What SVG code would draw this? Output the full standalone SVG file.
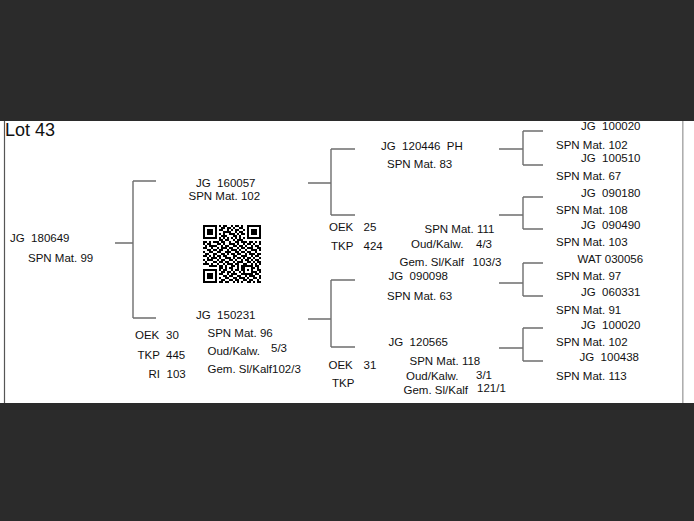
<svg xmlns="http://www.w3.org/2000/svg" width="694" height="521" viewBox="0 0 694 521">
<style>
text{font-family:"Liberation Sans",Arial,sans-serif;font-size:11.5px;fill:#111;white-space:pre}
.big{font-size:18px}
.c{fill:none;stroke:#6e6e6e;stroke-width:1.4}
.qr{fill:none;stroke:#000;stroke-width:2}
</style>
<rect x="0" y="0" width="694" height="521" fill="#2b2b2b"/>
<rect x="0" y="121" width="694" height="282" fill="#ffffff"/>
<line x1="4.5" y1="121" x2="4.5" y2="403" stroke="#555" stroke-width="1.2"/>
<line x1="682.8" y1="121" x2="682.8" y2="403" stroke="#aaa" stroke-width="1.5"/>
<text class="big" x="5" y="136">Lot 43</text>

<g id="connectors">
<path class="c" d="M115 243H133M133 181V318M133 181H156M133 318H156"/>
<path class="c" d="M308 183H331M331 149V215M331 149H355M331 215H355"/>
<path class="c" d="M308 319H331M331 280V347M331 280H355M331 347H355"/>
<path class="c" d="M499 149H523M523 131V165M523 131H543M523 165H543"/>
<path class="c" d="M499 215H523M523 197V229M523 197H543M523 229H543"/>
<path class="c" d="M499 283H523M523 263V296M523 263H543M523 296H543"/>
<path class="c" d="M499 348H523M523 328V361M523 328H543M523 361H543"/>
</g>

<g id="n-180649">
<text x="10" y="242" xml:space="preserve">JG  180649</text>
<text x="28" y="262">SPN Mat. 99</text>
</g>

<g id="n-160057">
<text x="196" y="187" xml:space="preserve">JG  160057</text>
<text x="188.5" y="200">SPN Mat. 102</text>
</g>

<g id="qr">
<path class="qr" d="M203 226h14m2 0h2m2 0h4m4 0h2m2 0h4m2 0h2m4 0h14
M203 228h2m10 0h2m4 0h4m2 0h4m2 0h2m4 0h4m4 0h2m10 0h2
M203 230h2m2 0h6m2 0h2m2 0h4m4 0h2m2 0h2m2 0h4m4 0h2m2 0h2m2 0h6m2 0h2
M203 232h2m2 0h6m2 0h2m6 0h8m4 0h2m2 0h4m4 0h2m2 0h6m2 0h2
M203 234h2m2 0h6m2 0h2m2 0h2m2 0h2m4 0h6m2 0h2m2 0h4m2 0h2m2 0h6m2 0h2
M203 236h2m10 0h2m4 0h6m6 0h4m2 0h2m6 0h2m10 0h2
M203 238h14m2 0h2m2 0h2m2 0h2m2 0h2m2 0h2m2 0h2m2 0h2m2 0h14
M203 240m16 0h4m2 0h4m4 0h2m2 0h6
M203 242h4m2 0h2m2 0h6m2 0h4m4 0h2m4 0h4m2 0h6m2 0h4m2 0h2m2 0h2
M203 244h2m2 0h4m6 0h4m2 0h2m4 0h6m2 0h2m4 0h2m2 0h4m2 0h2m4 0h2
M203 246m2 0h2m2 0h8m4 0h2m2 0h4m4 0h4m2 0h4m2 0h2m4 0h2m2 0h4
M203 248h4m4 0h2m4 0h2m2 0h6m2 0h4m4 0h2m2 0h4m2 0h6m4 0h4
M203 250m4 0h4m2 0h4m2 0h4m4 0h2m2 0h6m2 0h2m4 0h2m4 0h6m2 0h2
M203 252h2m4 0h4m4 0h4m4 0h6m4 0h4m2 0h4m2 0h4m4 0h2
M203 254m2 0h4m4 0h4m4 0h4m2 0h2m2 0h4m2 0h4m4 0h2m2 0h6m2 0h4
M203 256h4m2 0h2m2 0h2m2 0h4m2 0h4m6 0h4m4 0h6m4 0h2m2 0h4
M203 258m4 0h2m2 0h6m2 0h2m4 0h6m2 0h2m2 0h4m2 0h2m2 0h4m2 0h2m4 0h2
M203 260h2m2 0h6m4 0h2m2 0h4m4 0h4m2 0h2m4 0h2m2 0h4m2 0h2m2 0h4
M203 262m2 0h2m6 0h4m2 0h4m2 0h4m4 0h2m2 0h6m4 0h4m2 0h2m2 0h4
M203 264h6m2 0h2m4 0h2m4 0h2m2 0h6m2 0h4m4 0h4m4 0h2m2 0h2m2 0h2
M203 266m6 0h8m2 0h4m2 0h2m4 0h4m2 0h2m2 0h12m2 0h4
M203 268m16 0h4m2 0h2m2 0h4m4 0h2m2 0h4m6 0h4m2 0h2
M203 270h14m2 0h2m2 0h4m4 0h2m2 0h4m2 0h4m2 0h2m2 0h2m4 0h4
M203 272h2m10 0h2m4 0h4m2 0h4m2 0h2m4 0h2m2 0h2m6 0h6m2 0h2
M203 274h2m2 0h6m2 0h2m2 0h4m4 0h2m2 0h6m4 0h12m2 0h4
M203 276h2m2 0h6m2 0h2m6 0h4m2 0h4m4 0h4m4 0h2m2 0h6m4 0h2
M203 278h2m2 0h6m2 0h2m2 0h2m4 0h4m4 0h4m2 0h6m2 0h2m4 0h4m2 0h2
M203 280h2m10 0h2m4 0h4m4 0h4m2 0h4m4 0h4m2 0h4m4 0h2
M203 282h14m2 0h4m2 0h4m4 0h2m2 0h2m2 0h2m4 0h4m2 0h2m2 0h4"/>
</g>

<g id="n-150231">
<text x="196" y="318.5" xml:space="preserve">JG  150231</text>
<text x="207.5" y="337">SPN Mat. 96</text>
<text x="207.5" y="354.5">Oud/Kalw.</text>
<text x="271" y="352">5/3</text>
<text x="207.5" y="373">Gem. Sl/Kalf102/3</text>
<text x="135" y="339">OEK</text>
<text x="166" y="339">30</text>
<text x="137.5" y="358.5">TKP</text>
<text x="166" y="358.5">445</text>
<text x="148.5" y="377.5">RI</text>
<text x="166.5" y="377.5">103</text>
</g>

<g id="n-120446">
<text x="381" y="149.5" xml:space="preserve">JG  120446  PH</text>
<text x="387" y="168">SPN Mat. 83</text>
</g>

<g id="n-120446-info">
<text x="329" y="231">OEK</text>
<text x="363.5" y="231">25</text>
<text x="331" y="249.5">TKP</text>
<text x="363.5" y="249.5">424</text>
<text x="424.5" y="233">SPN Mat. 111</text>
<text x="411" y="248">Oud/Kalw.</text>
<text x="476" y="248">4/3</text>
<text x="399.5" y="266">Gem. Sl/Kalf</text>
<text x="472.5" y="266">103/3</text>
</g>

<g id="n-090098">
<text x="388.5" y="279.5" xml:space="preserve">JG  090098</text>
<text x="387" y="299.5">SPN Mat. 63</text>
</g>

<g id="n-120565">
<text x="388.5" y="346" xml:space="preserve">JG  120565</text>
<text x="328.5" y="368.5">OEK</text>
<text x="363.5" y="368.5">31</text>
<text x="332" y="387">TKP</text>
<text x="409.5" y="365">SPN Mat. 118</text>
<text x="406" y="380">Oud/Kalw.</text>
<text x="476" y="379">3/1</text>
<text x="403.5" y="393.5">Gem. Sl/Kalf</text>
<text x="477" y="392">121/1</text>
</g>

<g id="n-100020a"><text x="581" y="130" xml:space="preserve">JG  100020</text><text x="556" y="148.5">SPN Mat. 102</text></g>
<g id="n-100510"><text x="581" y="162" xml:space="preserve">JG  100510</text><text x="556" y="180">SPN Mat. 67</text></g>
<g id="n-090180"><text x="581" y="197" xml:space="preserve">JG  090180</text><text x="556" y="214">SPN Mat. 108</text></g>
<g id="n-090490"><text x="581" y="229" xml:space="preserve">JG  090490</text><text x="556" y="246">SPN Mat. 103</text></g>
<g id="n-030056"><text x="577.5" y="262.5">WAT 030056</text><text x="556" y="280">SPN Mat. 97</text></g>
<g id="n-060331"><text x="581" y="296" xml:space="preserve">JG  060331</text><text x="556" y="313.5">SPN Mat. 91</text></g>
<g id="n-100020b"><text x="581" y="328.5" xml:space="preserve">JG  100020</text><text x="556" y="346">SPN Mat. 102</text></g>
<g id="n-100438"><text x="579.5" y="361" xml:space="preserve">JG  100438</text><text x="556" y="379.5">SPN Mat. 113</text></g>
</svg>
